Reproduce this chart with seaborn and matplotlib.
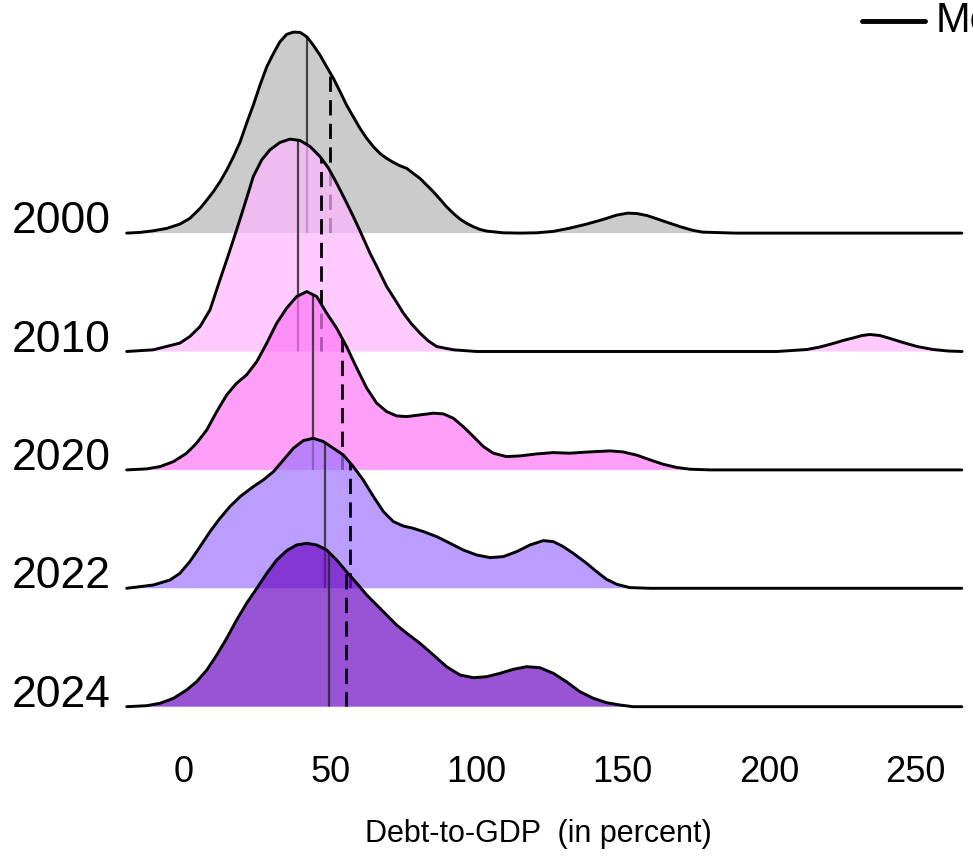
import numpy as np
import matplotlib
matplotlib.use("Agg")
import matplotlib.pyplot as plt
from matplotlib.patches import Polygon
from matplotlib.lines import Line2D
import seaborn as sns

# ---------------- data ----------------
years = ["2000", "2010", "2020", "2022", "2024"]

# density curves: x = Debt-to-GDP (%), d = ridge height
x_2000 = [-19.6, -15.0, -10.5, -5.9, -1.4, 2.0, 5.5, 7.8, 10.0, 12.3, 14.6, 16.9, 19.2, 21.4,
          23.7, 26.0, 28.3, 30.6, 32.8, 35.1, 37.4, 39.7, 42.0, 44.2, 46.5, 48.8, 51.1, 53.4,
          55.6, 57.9, 60.2, 62.5, 64.8, 67.0, 69.3, 71.6, 73.9, 76.2, 78.4, 80.7, 83.0, 85.3,
          87.6, 89.8, 92.1, 94.4, 96.7, 99.0, 101.2, 103.5, 109.2, 114.9, 120.6, 126.3, 132.0,
          137.7, 143.4, 148.0, 151.8, 155.0, 158.4, 162.0, 165.5, 169.6, 173.7, 177.2, 188.4,
          266.0]
d_2000 = [0, 0.7, 2.3, 4.7, 9, 14.7, 24.7, 33, 41.3, 51.3, 63, 76.3, 91.3, 109.7,
          128, 148, 166.3, 179.7, 191.3, 198.7, 201, 200.7, 196.3, 188, 178, 166.3, 154.7, 141.3,
          128, 116.3, 104.7, 94.7, 86.3, 79.7, 74.7, 70.7, 67.3, 64.7, 59.7, 54.7, 48, 41.3,
          33.7, 26.3, 19.7, 14, 9.7, 6.3, 3.7, 2, 0.3, 0, 0.3, 1.7, 5,
          9, 13.7, 18, 20, 19.5, 17.5, 14, 10.5, 6.5, 3, 1, 0,
          0]

x_2010 = [-19.6, -10.5, -1.4, 2.0, 5.5, 8.9, 12.3, 15.2, 18.0, 20.9, 23.7, 26.6, 29.4, 32.8,
          36.3, 39.7, 43.1, 46.5, 49.4, 52.2, 55.1, 57.9, 60.8, 63.6, 66.5, 69.3, 72.2, 75.0,
          77.8, 80.7, 83.5, 86.4, 92.1, 100.1, 202.8, 213.1, 217.5, 222.0, 225.4, 228.8, 231.9,
          234.6, 238.0, 241.5, 245.9, 250.7, 256.2, 261.3, 266.1]
d_2010 = [0, 1.7, 8.4, 15, 25, 41.7, 71.7, 96.7, 121.7, 148.4, 175, 191.7, 201.7, 209,
          212.4, 211, 205, 195, 183.4, 168.4, 151.7, 135, 116.7, 98.4, 81.7, 65, 51.7, 38.4,
          27.7, 18.4, 10.7, 5, 1.7, 0, 0, 2, 4.5, 8, 11, 13.5, 16,
          17, 16, 13, 9, 5, 2, 0.5, 0]

x_2020 = [-19.6, -12.8, -8.2, -3.6, 0.9, 4.3, 7.8, 11.2, 14.6, 18.0, 21.4, 24.9, 28.3, 31.7,
          35.1, 38.5, 42.0, 45.4, 48.8, 52.2, 55.6, 59.1, 62.5, 65.9, 69.3, 72.7, 76.2, 80.7,
          85.3, 88.7, 92.1, 95.5, 99.0, 102.4, 105.8, 110.3, 114.9, 120.6, 126.3, 132.0, 135.4,
          141.2, 145.7, 150.1, 154.9, 159.4, 163.8, 168.6, 173.0, 179.9, 266.0]
d_2020 = [0, 1, 3.3, 8.3, 16.7, 26.7, 40, 58.3, 75, 86.7, 95, 108.3, 126.7, 146.7,
          161.7, 173.3, 178.3, 173.3, 156.7, 141.7, 123.3, 101.7, 81.7, 66.7, 58.3, 54, 53.3, 55,
          56.7, 56, 51.7, 43.3, 33.3, 23.3, 16.7, 13.3, 14, 16, 17.3, 16.7, 17.4,
          18.4, 19, 18, 14.7, 10, 5.7, 2.4, 0.7, 0, 0]

x_2022 = [-19.6, -10.5, -4.8, -1.4, 2.0, 5.5, 8.9, 12.3, 15.7, 19.2, 23.7, 27.1, 30.6, 34.0,
          37.4, 40.8, 44.2, 47.7, 51.1, 54.5, 57.9, 61.3, 64.8, 68.2, 71.6, 75.0, 78.4, 81.9,
          86.4, 91.0, 95.5, 100.1, 104.7, 109.2, 113.8, 118.3, 122.9, 126.3, 129.7, 133.1,
          137.7, 141.1, 144.5, 148.0, 152.5, 159.4, 266.0]
d_2022 = [0, 3.3, 8.3, 15, 26.7, 41.7, 56.7, 70, 81.7, 91.7, 101.7, 108.3, 116.7, 128.3,
          140, 147.7, 150, 146.7, 140, 133.3, 121.7, 108.3, 91.7, 76.7, 66.7, 62.3, 60, 56.7,
          51.7, 45, 38.3, 33.3, 30.7, 31.7, 36.7, 43.3, 47.7, 46.7, 41.7, 35,
          25, 16.7, 9, 4, 0.7, 0, 0]

x_2024 = [-19.6, -12.8, -8.2, -3.6, 0.9, 4.3, 7.8, 11.2, 14.6, 18.0, 21.4, 24.9, 28.3, 31.7,
          35.1, 38.5, 42.0, 45.4, 48.8, 52.2, 55.6, 59.1, 62.5, 65.9, 69.3, 72.7, 76.2, 80.7,
          85.3, 89.8, 94.4, 99.0, 103.5, 108.1, 112.6, 117.2, 121.7, 126.3, 130.8, 135.4,
          140.0, 144.5, 149.1, 153.6, 266.0]
d_2024 = [0, 1, 3.4, 8.4, 16.7, 25, 36.7, 51.7, 68.4, 86.7, 103.4, 118.4, 133.4, 146.7,
          156, 161.7, 163.4, 161.7, 156.7, 146.7, 135, 123.4, 111.7, 101.7, 91.7, 81.7, 73.4, 63.4,
          51.7, 40, 31.7, 29, 30, 33.4, 37.4, 40, 39, 33.4, 25, 15,
          8.4, 4, 1.7, 0, 0]

medians = [42.0, 38.9, 44.2, 48.2, 49.6]
means = [49.9, 46.9, 53.9, 56.8, 55.4]

xs = [x_2000, x_2010, x_2020, x_2022, x_2024]
ds = [d_2000, d_2010, d_2020, d_2022, d_2024]

xticks = [0, 50, 100, 150, 200, 250]
fills = ["#B6B6B6", "#FFB6FF", "#FF76F6", "#9E74FF", "#6D0CC4"]
ridge_scale = 1 / 118.4   # height units -> one row spacing

# ---------------- figure ----------------
sns.set_theme(style="white")
plt.rcParams["font.family"] = ["Liberation Sans", "DejaVu Sans"]

fig = plt.figure(figsize=(9.73, 8.58), dpi=100)
ax = fig.add_axes([120 / 973, 128 / 858, 850 / 973, 730 / 858])

n = len(years)
for i, (yr, x, d, med, mn, col) in enumerate(zip(years, xs, ds, medians, means, fills)):
    base = n - 1 - i
    x = np.asarray(x, float)
    top = base + np.asarray(d, float) * ridge_scale
    z = 10 + 3 * i
    poly = Polygon(np.column_stack([np.r_[x, x[::-1]], np.r_[top, np.full_like(top, base)]]),
                   closed=True, facecolor=col, edgecolor="none", alpha=0.7, zorder=z)
    ax.add_patch(poly)
    vm = ax.vlines([med], base, base + 3, colors="#2a2a2a", linewidth=1.6, alpha=0.85,
                   zorder=z + 1)
    vm.set_clip_path(poly)
    va = ax.vlines([mn], base, base + 3, colors="black", linewidth=2.0,
                   linestyles=(0, (5.5, 3.0)), zorder=z + 1)
    va.set_clip_path(poly)
    sns.lineplot(x=x, y=top, ax=ax, color="black", linewidth=2.1, sort=False,
                 estimator=None, zorder=z + 2)

ax.set_xlim((120 - 184) / 2.924, (970 - 184) / 2.924)
ax.set_ylim(-(730 - 706.7) / 118.4, 706.7 / 118.4)
ax.set_xticks(xticks)
ax.set_xticklabels([str(t) for t in xticks], fontsize=26)
ax.set_yticks([n - 1 - i for i in range(n)])
ax.set_yticklabels(years, fontsize=32)
for lab in ax.get_yticklabels():
    lab.set_verticalalignment("baseline")
ax.tick_params(axis="x", length=0, pad=18, colors="black")
ax.tick_params(axis="y", length=0, pad=7, colors="black")
for s in ax.spines.values():
    s.set_visible(False)
ax.grid(False)
ax.set_facecolor("white")

fig.text(538 / 973, 1 - 834 / 858, "Debt-to-GDP  (in percent)", ha="center", va="center",
         fontsize=22, color="black")

# legend (cut off at the right edge, as in the reference)
fig.add_artist(Line2D([862 / 973, 925 / 973], [1 - 21 / 858] * 2, transform=fig.transFigure,
                      color="black", linewidth=3.5))
fig.text(936 / 973, 1 - 21 / 858, "Median", va="center", ha="left", fontsize=30, color="black")

fig.savefig("out.png", dpi=100, facecolor="white")
